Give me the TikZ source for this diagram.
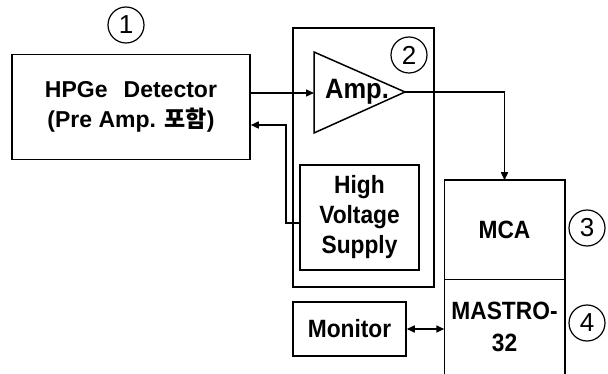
\documentclass[tikz,border=0pt]{standalone}
\usepackage{fontspec}
\setmainfont{Liberation Sans}
\newfontfamily\condfont{Liberation Sans}[FakeStretch=0.91]
\newfontfamily\krfont{Noto Sans CJK KR}
\usepackage{tikz}
\usetikzlibrary{arrows.meta,positioning,calc}

\begin{document}
\begin{tikzpicture}[
    x=1pt, y=-1pt,
    >={Triangle[length=8pt,width=7pt]},
    line width=1.5pt,
    blk/.style={draw, rectangle, inner sep=0pt, align=center, font=\condfont\fontsize{25}{30}\selectfont\bfseries},
    txt/.style={inner sep=0pt, align=center, font=\condfont\fontsize{25}{32}\selectfont\bfseries},
    num/.style={draw, circle, line width=1.2pt, minimum size=36pt, inner sep=0pt, font=\fontsize{26}{26}\selectfont}
]
\useasboundingbox (0,0) rectangle (608,374);

% Detector
\node[blk, minimum width=238pt, minimum height=105pt, font=\fontsize{23}{30}\selectfont\bfseries] (det) at (131,107)
    {HPGe\hspace{0.7em}Detector\\(Pre Amp. {\krfont 포함})};
\node[num] (n1) at (126,25) {1};

% Amplifier section
\node[draw, rectangle, minimum width=141pt, minimum height=259pt] (sec2) at (363.5,157.5) {};
\coordinate (ampin) at (314,93);
\coordinate (amptip) at (405,92);
\draw (314,52) -- (amptip) -- (314,133) -- cycle;
\node[txt, font=\condfont\fontsize{28}{28}\selectfont\bfseries] (amp) at (357,92) {Amp.};
\node[num] (n2) at (409,55) {2};
\node[blk, minimum width=119pt, minimum height=105pt] (hv) at (359.5,217.5)
    {High\\Voltage\\Supply};

% MCA / MASTRO-32
\node[txt, minimum width=119pt, minimum height=98pt] (mca) at (504.5,230) {MCA};
\node[txt, minimum width=119pt, minimum height=95pt] (mastro) at (504.5,326.5) {MASTRO-\\32};
\draw (mastro.south west) |- (mca.north east) -- (mastro.south east);
\draw (mca.south west) -- (mca.south east);
\node[num] (n3) at (587,228) {3};
\node[num] (n4) at (587,323) {4};

% Monitor
\node[blk, minimum width=113pt, minimum height=54pt] (monitor) at (349.5,329) {Monitor};

% Connections
\draw[->] (ampin -| det.east) -- (ampin);
\draw[->] (amptip) -| (mca.north);
\coordinate (hvin) at (300,223);
\coordinate (fb) at (286,125);
\draw[->] (hvin) -| (fb) -- (fb -| det.east);
\draw[<->] (monitor.east) -- (monitor.east -| mastro.west);
\end{tikzpicture}
\end{document}
